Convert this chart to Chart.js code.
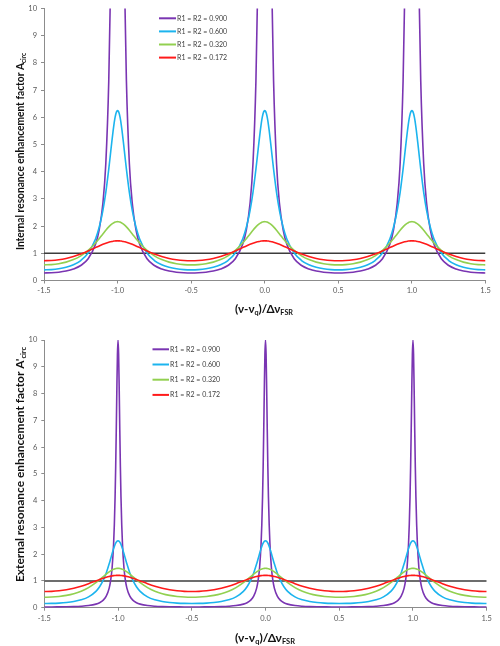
<!DOCTYPE html>
<html>
<head>
<meta charset="utf-8">
<script src="https://cdn.jsdelivr.net/npm/chart.js@4.4.1/dist/chart.umd.min.js"></script>
<style>
    html, body { margin: 0; padding: 0; background: #fff; }
    #wrap { position: relative; width: 500px; height: 646px; }
    .panel { position: absolute; left: 0; width: 500px; }
</style>
</head>
<body>
<div id="wrap">
    <div class="panel" style="top:0;height:322px"><canvas id="internalChart"></canvas></div>
    <div class="panel" style="top:322px;height:324px"><canvas id="externalChart"></canvas></div>
</div>
<script>
// --- data ---
// every resonance looks the same, so each curve is read once as a profile
// against the distance from the nearest resonance (in units of FSR)
const offsets = [0, 0.004, 0.008, 0.012, 0.016, 0.02, 0.025, 0.03, 0.04, 0.05, 0.06, 0.08, 0.1, 0.125, 0.15, 0.2, 0.25, 0.3, 0.35, 0.4, 0.45, 0.5];
const resonances = [-1, 0, 1];

const seriesLabels = ['R1 = R2 = 0.900', 'R1 = R2 = 0.600', 'R1 = R2 = 0.320', 'R1 = R2 = 0.172'];
const seriesColors = ['#7a35b2', '#1cb4ee', '#92d050', '#ff1a1a'];

// internal enhancement factor A_circ (top)
const internal900 = [100, 94.6, 81.5, 66.2, 52.4, 41.3, 31.1, 23.9, 15.03, 10.19, 7.33, 4.30, 2.83, 1.861, 1.330, 0.798, 0.552, 0.423, 0.349, 0.306, 0.284, 0.277];
const internal600 = [6.25, 6.235, 6.191, 6.120, 6.022, 5.901, 5.722, 5.517, 5.058, 4.572, 4.094, 3.242, 2.570, 1.955, 1.528, 1.011, 0.735, 0.578, 0.484, 0.429, 0.400, 0.391];
const internal320 = [2.163, 2.162, 2.159, 2.154, 2.148, 2.139, 2.126, 2.111, 2.073, 2.025, 1.971, 1.847, 1.710, 1.539, 1.377, 1.105, 0.907, 0.769, 0.676, 0.617, 0.584, 0.574];
const internal172 = [1.459, 1.458, 1.458, 1.457, 1.455, 1.453, 1.450, 1.446, 1.436, 1.424, 1.409, 1.373, 1.331, 1.272, 1.209, 1.083, 0.971, 0.880, 0.812, 0.765, 0.737, 0.728];

// external enhancement factor A'_circ (bottom)
const external900 = [10, 9.46, 8.15, 6.62, 5.24, 4.13, 3.11, 2.39, 1.503, 1.019, 0.733, 0.430, 0.283, 0.186, 0.133, 0.080, 0.055, 0.042, 0.035, 0.031, 0.028, 0.028];
const external600 = [2.5, 2.494, 2.477, 2.448, 2.409, 2.360, 2.289, 2.207, 2.023, 1.829, 1.638, 1.297, 1.028, 0.782, 0.611, 0.404, 0.294, 0.231, 0.194, 0.172, 0.160, 0.156];
const external320 = [1.471, 1.470, 1.468, 1.465, 1.460, 1.455, 1.446, 1.435, 1.409, 1.377, 1.340, 1.256, 1.163, 1.046, 0.936, 0.752, 0.617, 0.523, 0.460, 0.420, 0.397, 0.390];
const external172 = [1.208, 1.208, 1.207, 1.206, 1.205, 1.203, 1.200, 1.197, 1.189, 1.179, 1.167, 1.137, 1.102, 1.053, 1.001, 0.897, 0.804, 0.729, 0.672, 0.633, 0.610, 0.603];

// unity reference line
const unityX = [-1.5, 1.5];
const unityY = [1, 1];

const xTicks = [-1.5, -1.0, -0.5, 0.0, 0.5, 1.0, 1.5];
const yTicks = [0, 1, 2, 3, 4, 5, 6, 7, 8, 9, 10];

const FONT = 'Lato, "DejaVu Sans", sans-serif';
const TICK_COLOR = '#595959';
const AXIS_COLOR = '#8c8c8c';

// lay a read profile out over the three resonances, left to right
function tile(profile) {
    const pts = [];
    const last = offsets.length - 1;
    resonances.forEach((c, k) => {
        for (let i = last; i >= 1; i--) {
            if (k > 0 && i === last) continue; // midpoint already added
            pts.push({ x: c - offsets[i], y: profile[i] });
        }
        for (let i = 0; i <= last; i++) pts.push({ x: c + offsets[i], y: profile[i] });
    });
    return pts;
}

// draw a line of text with subscript parts, centred on (cx, cy)
function drawRich(ctx, parts, cx, cy, size, targetW, angle) {
    ctx.save();
    ctx.translate(cx, cy);
    ctx.rotate(angle);
    const subSize = size * 0.62;
    const fontFor = p => `bold ${p.sub ? subSize : size}px ${FONT}`;
    let w = 0;
    parts.forEach(p => { ctx.font = fontFor(p); w += ctx.measureText(p.t).width; });
    if (targetW) ctx.scale(targetW / w, 1);
    ctx.fillStyle = '#111';
    ctx.textBaseline = 'middle';
    ctx.textAlign = 'left';
    let x = -w / 2;
    parts.forEach(p => {
        ctx.font = fontFor(p);
        ctx.fillText(p.t, x, p.sub ? size * 0.32 : 0);
        x += ctx.measureText(p.t).width;
    });
    ctx.restore();
}

const xTitleParts = [{ t: '(ν-ν' }, { t: 'q', sub: true }, { t: ')/Δν' }, { t: 'FSR', sub: true }];

const decorPlugin = {
    id: 'decor',
    afterDraw(chart, args, opts) {
        const ctx = chart.ctx;
        drawRich(ctx, xTitleParts, opts.xTitle.x, opts.xTitle.y, 11, opts.xTitle.w, 0);
        drawRich(ctx, opts.yParts, opts.yTitle.x, opts.yTitle.y, 11, opts.yTitle.w, -Math.PI / 2);

        // legend (skip the unity line)
        const lg = opts.legend;
        ctx.save();
        ctx.font = `7px ${FONT}`;
        ctx.textBaseline = 'middle';
        ctx.textAlign = 'left';
        seriesLabels.forEach((label, i) => {
            const y = lg.y + i * lg.step;
            ctx.strokeStyle = seriesColors[i];
            ctx.lineWidth = 2;
            ctx.beginPath();
            ctx.moveTo(lg.x, y);
            ctx.lineTo(lg.x + lg.len, y);
            ctx.stroke();
            ctx.fillStyle = '#404040';
            ctx.fillText(label, lg.x + lg.len + 1, y);
        });
        ctx.restore();
    }
};

function makeChart(canvasId, profiles, layout) {
    const datasets = profiles.map((p, i) => ({
        label: seriesLabels[i],
        data: tile(p),
        borderColor: seriesColors[i],
        backgroundColor: 'transparent',
        borderWidth: 1.6,
        pointRadius: 0,
        cubicInterpolationMode: 'monotone',
        order: 4 - i
    }));
    datasets.push({
        label: 'unity',
        data: unityX.map((x, i) => ({ x: x, y: unityY[i] })),
        borderColor: '#3c3c3c',
        borderWidth: 1.6,
        pointRadius: 0,
        order: 5
    });

    return new Chart(document.getElementById(canvasId), {
        type: 'line',
        data: { datasets: datasets },
        plugins: [decorPlugin],
        options: {
            responsive: true,
            maintainAspectRatio: false,
            animation: false,
            parsing: true,
            layout: { padding: layout.padding },
            scales: {
                x: {
                    type: 'linear',
                    min: xTicks[0],
                    max: xTicks[xTicks.length - 1],
                    afterFit: s => { s.height = layout.xHeight; },
                    afterBuildTicks: s => { s.ticks = xTicks.map(v => ({ value: v })); },
                    ticks: {
                        color: TICK_COLOR,
                        font: { size: 7.5, family: FONT },
                        padding: 3,
                        maxRotation: 0,
                        callback: v => v.toFixed(1)
                    },
                    grid: { drawOnChartArea: false, drawTicks: true, tickLength: 3, color: AXIS_COLOR },
                    border: { color: AXIS_COLOR }
                },
                y: {
                    min: yTicks[0],
                    max: yTicks[yTicks.length - 1],
                    afterFit: s => { s.width = layout.yWidth; },
                    afterBuildTicks: s => { s.ticks = yTicks.map(v => ({ value: v })); },
                    ticks: {
                        color: TICK_COLOR,
                        font: { size: 7.5, family: FONT },
                        padding: 4
                    },
                    grid: { drawOnChartArea: false, drawTicks: true, tickLength: 3, color: AXIS_COLOR },
                    border: { color: AXIS_COLOR }
                }
            },
            plugins: {
                legend: { display: false },
                tooltip: { enabled: false },
                decor: {
                    xTitle: layout.xTitle,
                    yTitle: layout.yTitle,
                    yParts: layout.yParts,
                    legend: layout.legend
                }
            }
        }
    });
}

makeChart('internalChart', [internal900, internal600, internal320, internal172], {
    padding: { top: 8, right: 14.5, bottom: 0, left: 0 },
    xHeight: 41.5,
    yWidth: 44,
    xTitle: { x: 264, y: 309, w: 58 },
    yTitle: { x: 20, y: 151.5, w: 197 },
    yParts: [{ t: 'Internal resonance enhancement factor A' }, { t: 'circ', sub: true }],
    legend: { x: 159, y: 18.3, step: 13.1, len: 17 }
});

makeChart('externalChart', [external900, external600, external320, external172], {
    padding: { top: 18, right: 13.3, bottom: 0, left: 0 },
    xHeight: 38.3,
    yWidth: 44.3,
    xTitle: { x: 265, y: 316, w: 60 },
    yTitle: { x: 20, y: 142.5, w: 235 },
    yParts: [{ t: 'External resonance enhancement factor A\'' }, { t: 'circ', sub: true }],
    legend: { x: 152.5, y: 27.3, step: 15.2, len: 16.5 }
});
</script>
</body>
</html>
